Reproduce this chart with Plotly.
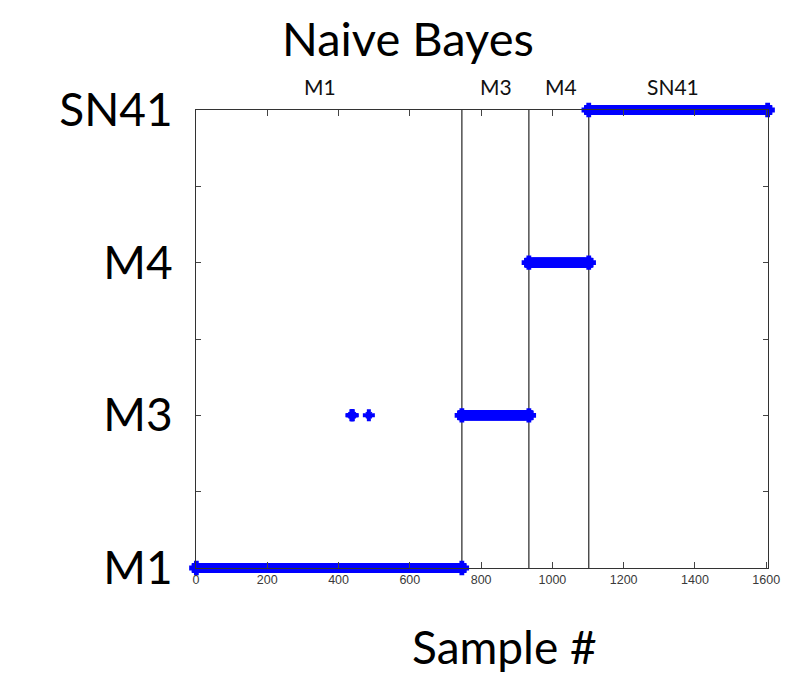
import plotly.graph_objects as go

# Data
class_labels = ["M1", "M3", "M4", "SN41"]
seg_start = [1, 746, 934, 1102]
seg_end = [746, 934, 1102, 1604]
seg_class = [1, 2, 3, 4]
boundaries = [746, 934, 1102]
outlier_x = [436, 438, 440, 485]
outlier_y = [2, 2, 2, 2]
top_label_x = [348, 842, 1025, 1339]
top_labels = ["M1", "M3", "M4", "SN41"]
x_ticks = [0, 200, 400, 600, 800, 1000, 1200, 1400, 1600]

BLUE = "#0000ff"
FONT = "Lato"

fig = go.Figure()

# one predicted label per sample, expanded from the runs
for s, e, c in zip(seg_start, seg_end, seg_class):
    xs = list(range(s, e + 1))
    fig.add_trace(go.Scatter(
        x=xs, y=[c] * len(xs), mode="markers",
        marker=dict(symbol="square", size=9.5, color=BLUE, line=dict(width=0)),
        cliponaxis=False, showlegend=False, hoverinfo="skip"))
    fig.add_trace(go.Scatter(
        x=[s, e], y=[c, c], mode="markers",
        marker=dict(symbol="cross", size=12, color=BLUE, line=dict(width=0)),
        cliponaxis=False, showlegend=False, hoverinfo="skip"))

fig.add_trace(go.Scatter(
    x=outlier_x, y=outlier_y, mode="markers",
    marker=dict(symbol="cross", size=10, color=BLUE, line=dict(width=0)),
    showlegend=False))
fig.add_trace(go.Scatter(
    x=outlier_x, y=outlier_y, mode="markers",
    marker=dict(symbol="x-thin", size=6, line=dict(color=BLUE, width=1.5)),
    showlegend=False))

for b in boundaries:
    fig.add_shape(type="line", x0=b, x1=b, y0=0, y1=1, xref="x", yref="paper",
                  line=dict(color="#444444", width=1.4), layer="below")

for lx, lt in zip(top_label_x, top_labels):
    fig.add_annotation(x=lx, y=1, xref="x", yref="paper", text=lt, showarrow=False,
                       yshift=24, yanchor="middle",
                       font=dict(family=FONT, size=21, color="#111111"))

fig.add_annotation(x=0.37, y=1, xref="paper", yref="paper", text="Naive Bayes",
                   showarrow=False, yshift=72, yanchor="middle",
                   font=dict(family=FONT, size=47, color="#000000"))
fig.add_annotation(x=0.54, y=0, xref="paper", yref="paper", text="Sample #",
                   showarrow=False, yshift=-78, yanchor="middle",
                   font=dict(family=FONT, size=46, color="#000000"))

fig.update_xaxes(range=[0, 1605], tickvals=x_ticks, ticks="inside", ticklen=6,
                 tickcolor="#444444", showline=True, linecolor="#333333", linewidth=1.3,
                 mirror="ticks", showgrid=False, zeroline=False,
                 tickfont=dict(family="Arial", size=12.5, color="#3a3a3a"))
fig.update_yaxes(range=[1, 4], tickvals=[1, 2, 3, 4], ticktext=class_labels,
                 ticks="inside", ticklen=5, tickcolor="#444444",
                 minor=dict(tickvals=[1.5, 2.5, 3.5], ticks="inside", ticklen=5,
                            tickcolor="#444444"),
                 showline=True, linecolor="#333333", linewidth=1.3, mirror="ticks",
                 showgrid=False, zeroline=False, ticklabelstandoff=13,
                 tickfont=dict(family=FONT, size=46, color="#000000"))

fig.update_layout(width=800, height=679, margin=dict(l=196, r=32, t=110, b=111),
                  plot_bgcolor="white", paper_bgcolor="white", showlegend=False)

fig.write_html("out.html")
